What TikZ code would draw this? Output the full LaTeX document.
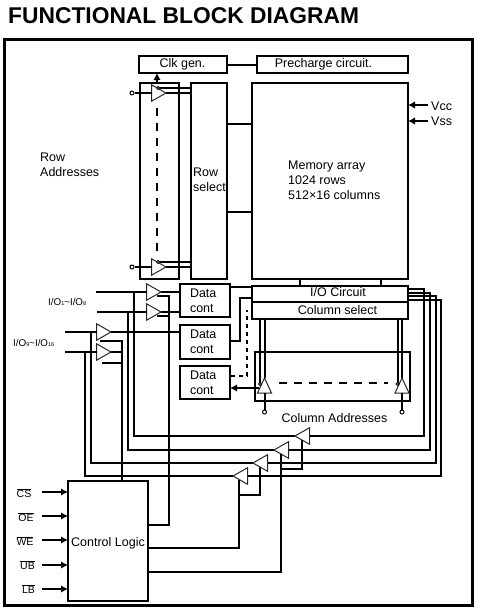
\documentclass[tikz,border=0pt]{standalone}
\usepackage{fontspec}
\setmainfont{Liberation Sans}
\usetikzlibrary{positioning, calc, arrows.meta, shapes.geometric}

\tikzset{
  blockbox/.style={draw, line width=2pt, inner sep=0pt, outer sep=0pt, font=\fontsize{12.5}{15}\selectfont},
  databox/.style={blockbox, align=left, text width=30pt},
  bufr/.style={draw=black!85, fill=white, line width=1pt, isosceles triangle, isosceles triangle stretches,
    minimum width=16.5, minimum height=14.5, inner sep=0pt, outer sep=0pt, anchor=apex},
  bufl/.style={bufr, shape border rotate=180},
  bufu/.style={bufr, shape border rotate=90, minimum width=14, minimum height=15},
  wire/.style={line width=2pt},
  sig/.style={line width=2pt, -{Latex[length=7pt,width=7.5pt]}},
  dashwire/.style={line width=2pt, dash pattern=on 8pt off 7pt},
  dotwire/.style={line width=2pt, dash pattern=on 4pt off 4pt},
  bubble/.style={circle, draw, fill=white, line width=0.9pt, inner sep=0pt, minimum size=3pt},
  pinhole/.style={circle, draw, fill=white, line width=1pt, inner sep=0pt, minimum size=4pt},
  lbl/.style={inner sep=0pt, font=\fontsize{12.5}{15}\selectfont, align=left},
  pinlbl/.style={inner sep=0pt, font=\fontsize{10.5}{12}\selectfont},
  iolbl/.style={inner sep=0pt, font=\fontsize{9.8}{11}\selectfont}
}
\newcommand{\iodigit}[1]{{\fontsize{5.5}{6}\selectfont #1}}

\begin{document}
\begin{tikzpicture}[x=1pt, y=-1pt]
    \useasboundingbox (0,0) rectangle (477,614);

    %% title and frame
    \node[inner sep=0pt, anchor=base west, font=\fontsize{22.8}{24}\selectfont\bfseries] (title) at (8,23) {FUNCTIONAL BLOCK DIAGRAM};
    \node[draw, line width=2.6pt, inner sep=0pt, minimum width=468, minimum height=566] (frame) at (238.5,322.5) {};

    %% blocks
    \node[blockbox, minimum width=88, minimum height=17] (clkgen) at (183,64.5) {};
    \node[blockbox, minimum width=151, minimum height=17] (precharge) at (332.5,64.5) {};
    \node[blockbox, minimum width=39, minimum height=196] (addrbox) at (159.5,181) {};
    \node[blockbox, minimum width=36, minimum height=196] (rowsel) at (209,181) {};
    \node[blockbox, minimum width=156, minimum height=196] (memarr) at (330,181) {};
    \node[blockbox, minimum width=156, minimum height=16] (iocirc) at (330,294) {};
    \node[blockbox, minimum width=156, minimum height=17] (colsel) at (330,310.5) {};
    \node[databox, minimum width=50, minimum height=33] (datA) at (205,300.5) {Data\\cont};
    \node[databox, minimum width=50, minimum height=34] (datB) at (205,342) {Data\\cont};
    \node[databox, minimum width=50, minimum height=33] (datC) at (205,382.5) {Data\\cont};
    \node[blockbox, minimum width=155, minimum height=49] (sensebox) at (332.5,376.5) {};
    \node[blockbox, minimum width=80, minimum height=120] (ctrl) at (108,541) {};

    %% labels
    \node[lbl] (clklbl) at (182.5,64) {Clk gen.};
    \node[lbl] (prelbl) at (323.5,64) {Precharge circuit.};
    \node[lbl, anchor=west] (rowlbl) at (193,179.5) {Row\\select};
    \node[lbl, anchor=west] (memlbl) at (288,180.5) {Memory array\\1024 rows\\512×16 columns};
    \node[lbl, anchor=west] (addrlbl) at (40,164.5) {Row\\Addresses};
    \node[lbl] (iolbl) at (338,292.5) {I/O Circuit};
    \node[lbl] (sellbl) at (337.5,310) {Column select};
    \node[lbl] (collbl) at (334.5,418.5) {Column Addresses};
    \node[lbl] (ctrllbl) at (108,543.5) {Control Logic};
    \node[lbl, anchor=west] (vcclbl) at (431,106) {Vcc};
    \node[lbl, anchor=west] (vsslbl) at (431,121) {Vss};
    \node[iolbl, anchor=west] (ioloA) at (48,301.5) {I/O\iodigit{1}\textasciitilde I/O\iodigit{8}};
    \node[iolbl, anchor=west] (iohiA) at (13,343) {I/O\iodigit{9}\textasciitilde I/O\iodigit{16}};
    \node[pinlbl] (cslbl) at (24,493) {$\overline{\mbox{CS}}$};
    \node[pinlbl] (oelbl) at (26,517) {$\overline{\mbox{OE}}$};
    \node[pinlbl] (welbl) at (25,541) {$\overline{\mbox{WE}}$};
    \node[pinlbl] (ublbl) at (27.5,565) {$\overline{\mbox{UB}}$};
    \node[pinlbl] (lblbl) at (28.5,589) {$\overline{\mbox{LB}}$};

    %% free wire ends
    \coordinate (rowinT) at (132,93);
    \coordinate (rowinB) at (132,267);
    \coordinate (inA) at (96,292);
    \coordinate (inB) at (97,312);
    \coordinate (inC) at (65,332);
    \coordinate (inD) at (65,352);
    \coordinate (junA) at (134,292);
    \coordinate (junB) at (128,312);
    \coordinate (junC) at (91,332);
    \coordinate (junD) at (85,352);
    \coordinate (tapA) at (157,296);
    \coordinate (tapB) at (157,316);
    \coordinate (tapC) at (100,341);
    \coordinate (tapD) at (102,363);
    \coordinate (busE) at (169,525);
    \coordinate (busF) at (122,481);
    \coordinate (outB) at (148,548);
    \coordinate (outC) at (148,572);
    \coordinate (enA) at (302,440);
    \coordinate (enB) at (281,454);
    \coordinate (enC) at (260,467);
    \coordinate (enD) at (239,480);
    \coordinate (splitB) at (281,469);
    \coordinate (splitD) at (239,495);

    %% row address buffers
    \node[bufr] (rbufT) at (166,93) {};
    \node[bufr] (rbufB) at (166,267) {};
    \node[pinhole] (holeT) at (rowinT) {};
    \node[pinhole] (holeB) at (rowinB) {};
    \draw[wire] (holeT) -- (rbufT.lower side);
    \draw[wire] (holeB) -- (rbufB.lower side);
    \draw[wire] (rbufT.apex) -- (rbufT.apex -| rowsel.west);
    \draw[wire] (rbufB.apex) -- (rbufB.apex -| rowsel.west);
    \coordinate (rowoutT) at (158,88);
    \coordinate (rowoutB) at (158,262);
    \draw[wire] (rowoutT) -- (rowoutT -| rowsel.west);
    \draw[wire] (rowoutB) -- (rowoutB -| rowsel.west);
    \node[bubble] (bubT) at (rowoutT) {};
    \node[bubble] (bubB) at (rowoutB) {};
    \coordinate (dashT) at (157,108);
    \coordinate (dashB) at (157,255);
    \draw[dashwire] (dashT) -- (dashB);
    \coordinate (clkup) at (157,83);
    \draw[sig] (clkup) -- (clkup |- clkgen.south);

    %% links between blocks
    \draw[wire] (clkgen) -- (precharge);
    \coordinate (linkA) at (227,124);
    \coordinate (linkB) at (227,212);
    \draw[wire] (linkA) -- (linkA -| memarr.west);
    \draw[wire] (linkB) -- (linkB -| memarr.west);
    \coordinate (ioA) at (300,279);
    \coordinate (ioB) at (381,279);
    \draw[wire] (ioA) -- (ioA |- iocirc.north);
    \draw[wire] (ioB) -- (ioB |- iocirc.north);
    \coordinate (vccin) at (428,105);
    \coordinate (vssin) at (428,121);
    \draw[sig] (vccin) -- (vccin -| memarr.east);
    \draw[sig] (vssin) -- (vssin -| memarr.east);

    %% I/O buffers
    \node[bufr] (bufA) at (161,292) {};
    \node[bufr] (bufB) at (161,312) {};
    \node[bufr] (bufC) at (111,332) {};
    \node[bufr] (bufD) at (111,352) {};
    \draw[wire] (inA) -- (bufA.lower side);
    \draw[wire] (inB) -- (bufB.lower side);
    \draw[wire] (inC) -- (bufC.lower side);
    \draw[wire] (inD) -- (bufD.lower side);
    \draw[wire] (bufA.apex) -- (bufA.apex -| datA.west);
    \draw[wire] (bufB.apex) -- (bufB.apex -| datA.west);
    \draw[wire] (bufC.apex) -- (bufC.apex -| datB.west);
    \draw[wire] (bufD.apex) -- (bufD.apex -| busF);
    \draw[wire] (tapA) -| (busE) -- (busE -| ctrl.east);
    \draw[wire] (tapB) -- (tapB -| busE);
    \draw[wire] (tapC) -| (busF);
    \draw[wire] (tapD) -- (tapD -| busF);

    %% data cont to I/O circuit
    \coordinate (datAout) at (230,287);
    \coordinate (datBout) at (230,341);
    \coordinate (turnB) at (240,298);
    \coordinate (iotapB) at (252,298);
    \draw[wire] (datAout) -- (datAout -| iocirc.west);
    \draw[wire] (datBout) -| (turnB) -- (iotapB);
    \coordinate (dotA) at (231,376);
    \coordinate (dotB) at (247,310);
    \draw[dotwire] (dotA) -| (dotB);

    %% column sense buffers
    \node[bufu] (sbufL) at (264.5,378) {};
    \node[bufu] (sbufR) at (402,378) {};
    \coordinate (bitLa) at (260,319);
    \coordinate (bitLb) at (264.5,319);
    \coordinate (bitRa) at (397.5,319);
    \coordinate (bitRb) at (402,319);
    \draw[wire] (bitLa) -- (260,384);
    \draw[wire] (bitLb) -- (sbufL.apex);
    \draw[wire] (bitRa) -- (397.5,384);
    \draw[wire] (bitRb) -- (sbufR.apex);
    \node[bubble] (bubL) at (260,384) {};
    \node[bubble] (bubR) at (397.5,384) {};
    \node[pinhole] (holeL) at (264.5,412) {};
    \node[pinhole] (holeR) at (402,412) {};
    \draw[wire] (sbufL.lower side) -- (holeL);
    \draw[wire] (sbufR.lower side) -- (holeR);
    \coordinate (senseA) at (279,383);
    \coordinate (senseB) at (388,383);
    \draw[dashwire] (senseA) -- (senseB);
    \coordinate (senseout) at (259,388);
    \draw[sig] (senseout) -- (senseout -| datC.east);

    %% column address buffers
    \node[bufl] (cbufA) at (295,436) {};
    \node[bufl] (cbufB) at (274,450) {};
    \node[bufl] (cbufC) at (253,463) {};
    \node[bufl] (cbufD) at (233,476) {};
    \draw[wire] (junA) |- (cbufA.apex);
    \draw[wire] (junB) |- (cbufB.apex);
    \draw[wire] (junC) |- (cbufC.apex);
    \draw[wire] (junD) |- (cbufD.apex);
    \coordinate (rtapA) at (408,289);
    \coordinate (rtapB) at (408,292.5);
    \coordinate (rtapC) at (408,296);
    \coordinate (rtapD) at (408,300);
    \draw[wire] (rtapA) -| (424,436) -- (cbufA.lower side);
    \draw[wire] (rtapB) -| (430,450) -- (cbufB.lower side);
    \draw[wire] (rtapC) -| (435.5,463) -- (cbufC.lower side);
    \draw[wire] (rtapD) -| (441,476) -- (cbufD.lower side);

    %% control logic outputs
    \draw[wire] (outB) -| (enD);
    \draw[wire] (splitD) -| (enC);
    \draw[wire] (outC) -| (enB);
    \draw[wire] (splitB) -| (enA);

    %% control logic inputs
    \coordinate (csin) at (42,492);
    \coordinate (oein) at (42,516);
    \coordinate (wein) at (42,540);
    \coordinate (ubin) at (42,565);
    \coordinate (lbin) at (42,589);
    \draw[sig] (csin) -- (csin -| ctrl.west);
    \draw[sig] (oein) -- (oein -| ctrl.west);
    \draw[sig] (wein) -- (wein -| ctrl.west);
    \draw[sig] (ubin) -- (ubin -| ctrl.west);
    \draw[sig] (lbin) -- (lbin -| ctrl.west);

\end{tikzpicture}
\end{document}
